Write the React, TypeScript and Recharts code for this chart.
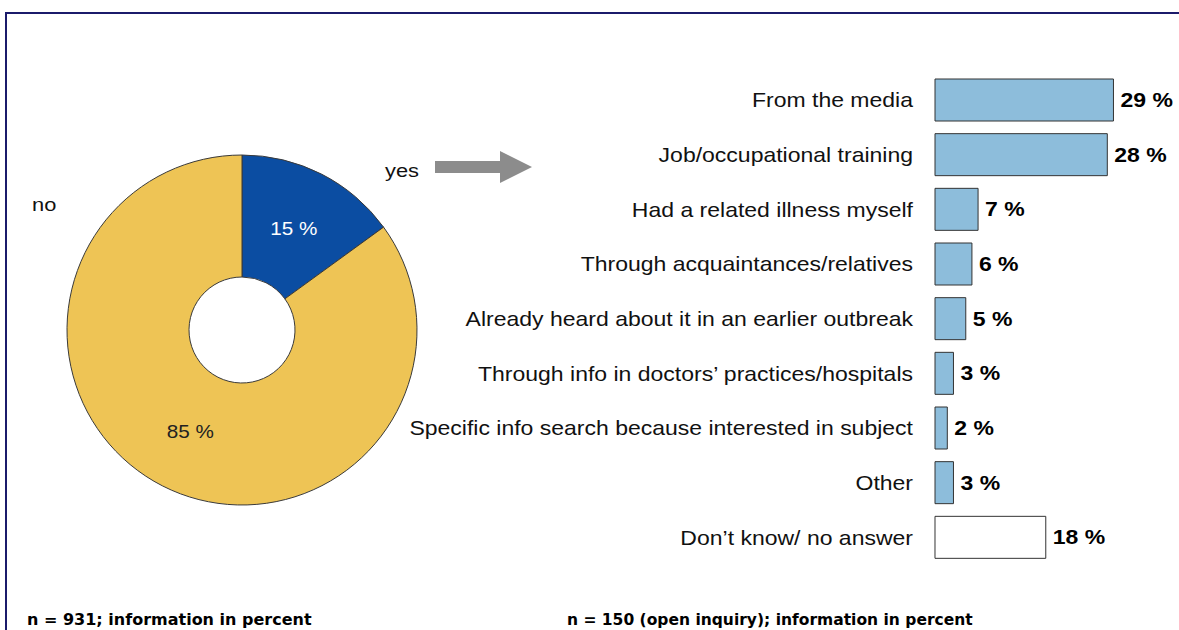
import React from "react";
import { PieChart, Pie, Cell, BarChart, Bar, XAxis, YAxis, LabelList } from "recharts";

// left: did you hear about it?
const answerNames = ["yes", "no"];
const answerValues = [15, 85];
const answerColors = ["#0b4da2", "#eec455"];

// right: where from (yes only)
const sources = [
  "From the media",
  "Job/occupational training",
  "Had a related illness myself",
  "Through acquaintances/relatives",
  "Already heard about it in an earlier outbreak",
  "Through info in doctors\u2019 practices/hospitals",
  "Specific info search because interested in subject",
  "Other",
  "Don\u2019t know/ no answer",
];
const sourceValues = [29, 28, 7, 6, 5, 3, 2, 3, 18];
const sourceColors = ["#8dbddb", "#8dbddb", "#8dbddb", "#8dbddb", "#8dbddb", "#8dbddb", "#8dbddb", "#8dbddb", "#ffffff"];

const notes = ["n = 931; information in percent", "n = 150 (open inquiry); information in percent"];

const pieData = answerNames.map((name, i) => ({ name, value: answerValues[i] }));
const barData = sources.map((name, i) => ({ name, value: sourceValues[i] }));

// the original slide is stretched sideways a bit
const SX = 1.15;
const FONT = '"Liberation Sans", Arial, sans-serif';
const RAD = Math.PI / 180;

function StretchText({ x, y, anchor = "start", size, weight = "normal", fill = "#111", family = FONT, sx = SX, dy, children }: any) {
  return (
    <g transform={`translate(${x},${y}) scale(${sx},1)`}>
      <text x={0} y={0} dy={dy} textAnchor={anchor} fontSize={size} fontWeight={weight} fill={fill} fontFamily={family}>
        {children}
      </text>
    </g>
  );
}

const CategoryTick = (props: any) => {
  const { x, y, payload } = props;
  return (
    <StretchText x={x} y={y} anchor="end" size={20} dy="0.355em">
      {payload.value}
    </StretchText>
  );
};

const ValueLabel = (props: any) => {
  const vb = props.viewBox ?? props;
  const { x, y, width, height } = vb;
  return (
    <StretchText x={x + width + 7} y={y + height / 2} size={20} weight="bold" fill="#000" dy="0.355em">
      {`${props.value} %`}
    </StretchText>
  );
};

const PieLabel = (props: any) => {
  const { cx, cy, midAngle, innerRadius, outerRadius, index, value } = props;
  const r = (innerRadius + outerRadius) / 2;
  const x = cx + r * Math.cos(-midAngle * RAD);
  const y = cy + r * Math.sin(-midAngle * RAD);
  return (
    <StretchText x={x} y={y} anchor="middle" size={18} fill={index === 0 ? "#ffffff" : "#222"} dy="0.355em">
      {`${value} %`}
    </StretchText>
  );
};

export default function App() {
  return (
    <div style={{ position: "absolute", left: 0, top: 0, width: 1179, height: 630, overflow: "hidden", background: "#fff" }}>
      <div
        style={{
          position: "absolute",
          left: 5,
          top: 12,
          width: 1300,
          height: 800,
          border: "2px solid #1b1b6b",
        }}
      />
      <div style={{ position: "absolute", left: 0, top: 0 }}>
        <BarChart
          width={1179}
          height={600}
          data={barData}
          layout="vertical"
          margin={{ top: 73, right: 4, bottom: 35, left: 0 }}
        >
          <XAxis type="number" domain={[0, 39]} hide />
          <YAxis
            type="category"
            dataKey="name"
            width={935}
            axisLine={false}
            tickLine={false}
            tickMargin={16}
            interval={0}
            tick={<CategoryTick />}
          />
          <Bar dataKey="value" barSize={42} stroke="#333" strokeWidth={1} isAnimationActive={false}>
            {barData.map((d, i) => (
              <Cell key={d.name} fill={sourceColors[i]} />
            ))}
            <LabelList dataKey="value" content={<ValueLabel />} />
          </Bar>
        </BarChart>
      </div>
      <div style={{ position: "absolute", left: 42, top: 130 }}>
        <PieChart width={400} height={400} margin={{ top: 0, right: 0, bottom: 0, left: 0 }}>
          <Pie
            data={pieData}
            dataKey="value"
            nameKey="name"
            cx={200}
            cy={200}
            innerRadius={53}
            outerRadius={175}
            startAngle={90}
            endAngle={-270}
            stroke="#3a3a3a"
            strokeWidth={1}
            label={PieLabel}
            labelLine={false}
            isAnimationActive={false}
          >
            {pieData.map((d, i) => (
              <Cell key={d.name} fill={answerColors[i]} />
            ))}
          </Pie>
        </PieChart>
      </div>
      <svg width={1179} height={630} style={{ position: "absolute", left: 0, top: 0, pointerEvents: "none" }}>
        <StretchText x={385} y={177} size={19}>{answerNames[0]}</StretchText>
        <StretchText x={32} y={211} size={19}>{answerNames[1]}</StretchText>
        <polygon points="435,161 500,161 500,151 532,167 500,183 500,173 435,173" fill="#8c8c8c" />
        <StretchText x={27} y={625} size={16} sx={1} weight="bold" fill="#000" family='"DejaVu Sans", sans-serif'>
          {notes[0]}
        </StretchText>
        <StretchText x={567} y={625} size={16} sx={0.97} weight="bold" fill="#000" family='"DejaVu Sans", sans-serif'>
          {notes[1]}
        </StretchText>
      </svg>
    </div>
  );
}
